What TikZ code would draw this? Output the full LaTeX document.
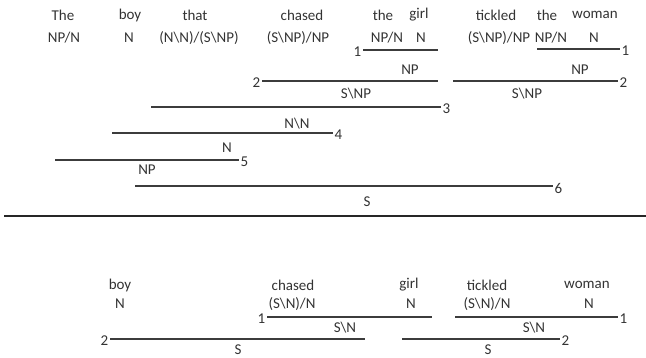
\documentclass[tikz,border=0pt]{standalone}
\usepackage{fontspec}
\setmainfont{Carlito}
\definecolor{txt}{HTML}{333333}
\definecolor{lc}{HTML}{3c3c3c}
\begin{document}
\begin{tikzpicture}[x=1pt,y=-1pt,
  wd/.style={inner sep=0pt,text=txt,font=\fontsize{15}{17}\selectfont},
  ln/.style={draw=lc,line width=1.9pt},
  numr/.style={wd,anchor=west,yshift=-2pt,xshift=1.5pt},
  numl/.style={wd,anchor=east,yshift=-2pt,xshift=-1.5pt}]
\useasboundingbox (0,0) rectangle (646,357);
% ---------- top: words ----------
\node[wd] (w1) at (63,15) {The};
\node[wd] (w2) at (130,15) {boy};
\node[wd] (w3) at (195,15) {that};
\node[wd] (w4) at (302,15) {chased};
\node[wd] (w5) at (383,15) {the};
\node[wd] (w6) at (419,15) {girl};
\node[wd] (w7) at (496,15) {tickled};
\node[wd] (w8) at (547,15) {the};
\node[wd] (w9) at (595,15) {woman};
\node[wd] (c1) at (64,38) {NP/N};
\node[wd] (c2) at (129,38) {N};
\node[wd] (c3) at (199,38) {(N\textbackslash N)/(S\textbackslash NP)};
\node[wd] (c4) at (298,38) {(S\textbackslash NP)/NP};
\node[wd] (c5) at (387,38) {NP/N};
\node[wd] (c6) at (421,38) {N};
\node[wd] (c7) at (499,38) {(S\textbackslash NP)/NP};
\node[wd] (c8) at (551,38) {NP/N};
\node[wd] (c9) at (594,38) {N};
% ---------- top: derivation ----------
\coordinate (a1) at (363,50); \coordinate (b1) at (438,50);
\draw[ln] (a1) -- (b1); \node[numl] (n1) at (a1) {1};
\coordinate (a1r) at (537,49); \coordinate (b1r) at (620,49);
\draw[ln] (a1r) -- (b1r); \node[numr] (n1r) at (b1r) {1};
\node[wd] (r1) at (410,70) {NP};
\node[wd] (r1r) at (580,70) {NP};
\coordinate (a2) at (262,81); \coordinate (b2) at (438,81);
\draw[ln] (a2) -- (b2); \node[numl] (n2) at (a2) {2};
\coordinate (a2r) at (453,81); \coordinate (b2r) at (618,81);
\draw[ln] (a2r) -- (b2r); \node[numr] (n2r) at (b2r) {2};
\node[wd] (r2) at (356,94) {S\textbackslash NP};
\node[wd] (r2r) at (527,94) {S\textbackslash NP};
\coordinate (a3) at (151,107); \coordinate (b3) at (441,107);
\draw[ln] (a3) -- (b3); \node[numr] (n3) at (b3) {3};
\node[wd] (r3) at (297,124) {N\textbackslash N};
\coordinate (a4) at (112,133); \coordinate (b4) at (333,133);
\draw[ln] (a4) -- (b4); \node[numr] (n4) at (b4) {4};
\node[wd] (r4) at (227,148) {N};
\coordinate (a5) at (55,160); \coordinate (b5) at (239,160);
\draw[ln] (a5) -- (b5); \node[numr] (n5) at (b5) {5};
\node[wd] (r5) at (147,170) {NP};
\coordinate (a6) at (135,186); \coordinate (b6) at (553,186);
\draw[ln] (a6) -- (b6); \node[numr] (n6) at (b6) {6};
\node[wd] (r6) at (367,202) {S};
% ---------- separator ----------
\coordinate (s1) at (4,216); \coordinate (s2) at (646,216);
\draw[draw=black!85,line width=2pt] (s1) -- (s2);
% ---------- bottom: words ----------
\node[wd] (u1) at (120,285) {boy};
\node[wd] (u2) at (293,285) {chased};
\node[wd] (u3) at (409,285) {girl};
\node[wd] (u4) at (487,285) {tickled};
\node[wd] (u5) at (587,285) {woman};
\node[wd] (d1) at (120,304) {N};
\node[wd] (d2) at (292,304) {(S\textbackslash N)/N};
\node[wd] (d3) at (411,304) {N};
\node[wd] (d4) at (487,304) {(S\textbackslash N)/N};
\node[wd] (d5) at (589,304) {N};
% ---------- bottom: derivation ----------
\coordinate (e1) at (267,317); \coordinate (f1) at (432,317);
\draw[ln] (e1) -- (f1); \node[numl] (m1) at (e1) {1};
\coordinate (e1r) at (455,317); \coordinate (f1r) at (618,317);
\draw[ln] (e1r) -- (f1r); \node[numr] (m1r) at (f1r) {1};
\node[wd] (q1) at (345,328) {S\textbackslash N};
\node[wd] (q1r) at (534,328) {S\textbackslash N};
\coordinate (e2) at (110,339); \coordinate (f2) at (365,339);
\draw[ln] (e2) -- (f2); \node[numl] (m2) at (e2) {2};
\coordinate (e2r) at (402,339); \coordinate (f2r) at (560,339);
\draw[ln] (e2r) -- (f2r); \node[numr] (m2r) at (f2r) {2};
\node[wd] (q2) at (238,349.5) {S};
\node[wd] (q2r) at (488,349.5) {S};
\end{tikzpicture}
\end{document}
